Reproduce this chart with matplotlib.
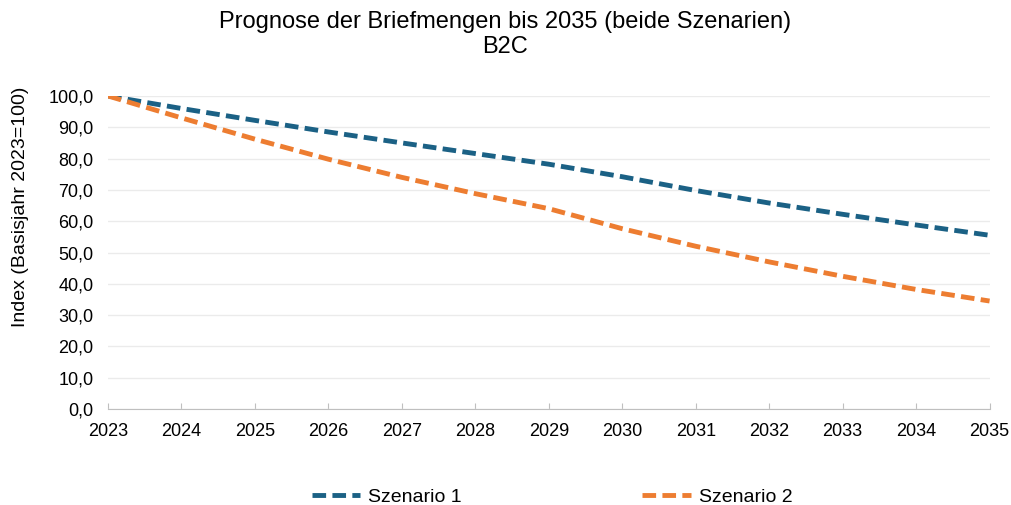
import matplotlib
matplotlib.use("Agg")
import matplotlib.pyplot as plt
from matplotlib.ticker import FuncFormatter

plt.rcParams['font.family'] = ['Liberation Sans', 'DejaVu Sans']

years = list(range(2023, 2036))
szenario1 = [100.0, 96.0, 92.2, 88.5, 85.0, 81.6, 78.2, 74.2, 69.8, 65.8, 62.2, 58.8, 55.5]
szenario2 = [100.0, 93.0, 86.2, 79.8, 74.0, 68.8, 64.0, 57.6, 52.0, 47.0, 42.4, 38.2, 34.5]
title = "Prognose der Briefmengen bis 2035 (beide Szenarien)\nB2C"
ylabel = "Index (Basisjahr 2023=100)"

c1 = "#1B6185"
c2 = "#ED7D31"

fig = plt.figure(figsize=(10.11, 5.05), dpi=100)
ax = fig.add_axes([0.1068, 0.190, 0.872, 0.620])

l1, = ax.plot(years, szenario1, color=c1, lw=3.5, dashes=(2.8, 1.3), label="Szenario 1")
l2, = ax.plot(years, szenario2, color=c2, lw=3.5, dashes=(2.8, 1.3), label="Szenario 2")

ax.set_xlim(2023, 2035)
ax.set_ylim(0, 100)
ax.set_xticks(years)
ax.set_yticks(range(0, 101, 10))
ax.yaxis.set_major_formatter(FuncFormatter(lambda v, p: f"{v:.1f}".replace(".", ",")))
ax.grid(axis='y', color='#EBEBEB', lw=1)
ax.set_axisbelow(True)
for s in ['top', 'right', 'left']:
    ax.spines[s].set_visible(False)
ax.spines['bottom'].set_color('#BFBFBF')
ax.tick_params(axis='y', length=0, labelsize=13, colors='#000000', pad=10.5)
ax.tick_params(axis='x', length=4, direction='in', color='#BFBFBF', labelsize=13, pad=10)
ax.set_ylabel(ylabel, fontsize=14)
ax.yaxis.set_label_coords(-0.090, 0.645)

fig.suptitle(title, fontsize=17, y=0.978, linespacing=1.15)

fig.legend(handles=[l1, l2], loc='center', bbox_to_anchor=(0.546, 0.016), ncol=2,
           frameon=False, fontsize=14, columnspacing=9.3, handlelength=2.5, handletextpad=0.4,
           borderpad=0, borderaxespad=0)

fig.savefig("out.png", dpi=100)
